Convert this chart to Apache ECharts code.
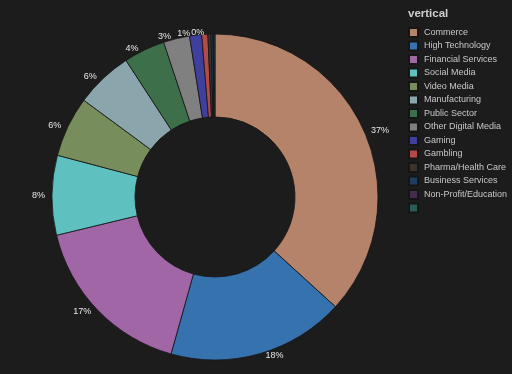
<!DOCTYPE html>
<html><head><meta charset="utf-8">
<script src="https://cdn.jsdelivr.net/npm/echarts@6/dist/echarts.min.js"></script>
<style>html,body{margin:0;padding:0;background:#1c1c1c;}#c{width:512px;height:374px;}</style>
</head><body><div id="c"></div>
<script>
const categories = ["Commerce","High Technology","Financial Services","Social Media","Video Media","Manufacturing","Public Sector","Other Digital Media","Gaming","Gambling","Pharma/Health Care","Business Services","Non-Profit/Education"," "];
const values = [36.8,17.6,16.9,7.9,6.0,5.7,4.1,2.6,1.2,0.6,0.3,0.2,0.1,0.1];
const colors = ["#b5836a","#3672ad","#a066a6","#5fc0c0","#778e5c","#8ba5ac","#3e6f4b","#808080","#3f3f9e","#b04b47","#3d3429","#1f3d61","#432c4d","#2a5d5a"];
const legendTitle = "vertical";

const chart = echarts.init(document.getElementById('c'));
chart.setOption({
  backgroundColor: '#1c1c1c',
  animation: false,
  title: { text: legendTitle, left: 403, top: 3, textStyle: { color: '#cfcfcf', fontSize: 11.5, fontWeight: 'bold', fontFamily: 'Liberation Sans' } },
  color: colors,
  legend: {
    orient: 'vertical', left: 403, top: 22, itemWidth: 9, itemHeight: 9, itemGap: 2.5,
    icon: 'rect',
    textStyle: { color: '#c8c8c8', fontSize: 9, lineHeight: 9, fontFamily: 'Liberation Sans', padding: [0,0,0,1] },
    data: categories
  },
  series: [{
    type: 'pie',
    center: [215, 197],
    radius: [80, 163],
    startAngle: 90,
    clockwise: true,
    avoidLabelOverlap: false,
    itemStyle: { borderColor: '#151515', borderWidth: 0.8 },
    label: {
      show: true, position: 'outside', color: '#e8e8e8', fontSize: 9, fontFamily: 'Liberation Sans',
      formatter: p => Math.round(p.percent) + '%'
    },
    labelLine: { show: false, length: 2, length2: 0 },
    data: categories.map((c, i) => ({ name: c, value: values[i] }))
  }]
});
</script></body></html>
